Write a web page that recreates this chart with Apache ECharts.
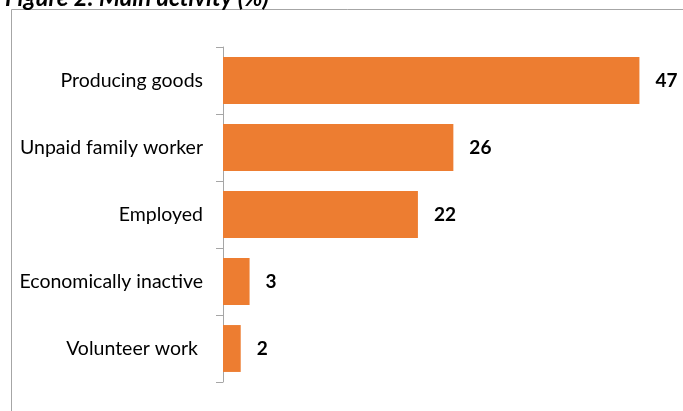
<!DOCTYPE html>
<html>
<head>
<meta charset="utf-8">
<script src="https://cdn.jsdelivr.net/npm/echarts@6/dist/echarts.min.js"></script>
<style>
  html, body { margin: 0; padding: 0; background: #fff; }
  #chart { width: 683px; height: 411px; }
</style>
</head>
<body>
<div id="chart"></div>
<script>
// Main activity shares, in percent
const categories = ['Producing goods', 'Unpaid family worker', 'Employed', 'Economically inactive', 'Volunteer work '];
const shares = [47, 26, 22, 3, 2];
const titleText = 'Figure 2: Main activity (%)';

const chart = echarts.init(document.getElementById('chart'), null, { renderer: 'canvas' });

chart.setOption({
  animation: false,
  backgroundColor: '#ffffff',
  title: {
    text: titleText,
    left: 0,
    top: -19,
    textStyle: { fontFamily: 'Lato', fontSize: 24, fontWeight: 'bold', fontStyle: 'italic', color: '#000' }
  },
  graphic: [{
    type: 'rect',
    shape: { x: 11.5, y: 9.5, width: 700, height: 420 },
    style: { fill: 'none', stroke: '#a6a6a6', lineWidth: 1 },
    silent: true,
    z: -1
  }],
  grid: { left: 223, right: 17, top: 47, bottom: 29, containLabel: false },
  xAxis: {
    type: 'value',
    min: 0,
    max: 50,
    show: false
  },
  yAxis: {
    type: 'category',
    data: categories,
    inverse: true,
    axisLine: { show: true, lineStyle: { color: '#a6a6a6', width: 1 } },
    axisTick: { show: true, length: 7, lineStyle: { color: '#a6a6a6' } },
    axisLabel: { fontFamily: 'Lato', fontSize: 19.5, color: '#000', margin: 20 }
  },
  series: [{
    type: 'bar',
    data: shares,
    barWidth: '70%',
    itemStyle: { color: '#ED7D31' },
    label: {
      show: true,
      position: 'right',
      distance: 16,
      fontFamily: 'Lato',
      fontSize: 19,
      fontWeight: 'bold',
      color: '#000'
    }
  }]
});
</script>
</body>
</html>
